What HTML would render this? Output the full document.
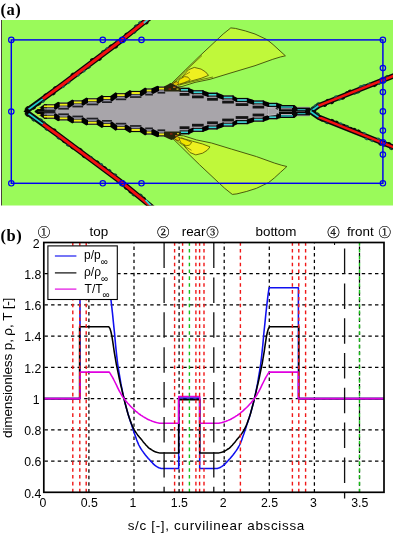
<!DOCTYPE html>
<html><head><meta charset="utf-8"><style>html,body{margin:0;padding:0;background:#fff;width:394px;height:533px;overflow:hidden}svg{display:block;filter:blur(0.3px)}</style></head>
<body><svg width="394" height="533" viewBox="0 0 394 533">
<rect x="2" y="20" width="391" height="185.5" fill="#9afa5a"/>
<rect x="1" y="20" width="1" height="185.5" fill="#4a4438"/>
<polygon points="170,85 198,57.6 217.1,39.7 223.2,34 230.8,27.9 235.4,28.4 245.3,30.9 255,34 267.1,39.7 273,44.5 279,50 285.4,55.8 280.3,57 272.8,59.3 255,65.7 230,73.2 210,79.3 195,82.4 182,86.5 176,87" fill="#c0f83a" stroke="#3e4a08" stroke-width="0.9"/>
<polyline points="178,85.4 195,81 213,77" fill="none" stroke="#4a4a00" stroke-width="0.7"/>
<polyline points="172,84.5 186,70.5 202,55.5" fill="none" stroke="#4a4a00" stroke-width="0.7"/>
<polygon points="180,84.5 183.4,75.4 188.6,69.7 194.3,67.4 201.1,69.1 205.7,72 208.5,75.4 201.1,78.3 190.8,81.1 182.8,83.4" fill="#eef020" stroke="#4a4a00" stroke-width="0.8"/>
<polygon points="177,85 179.4,79.4 184.6,76.6 188,77.1 190.3,80 185,82.3" fill="#f2e400" stroke="#4a4a00" stroke-width="0.7"/>
<polygon points="171,85.5 174,82.5 177,81.5 178.5,83.5 176,86" fill="#d8c000" stroke="#703000" stroke-width="0.7"/>
<polyline points="170,86 180,78 190,72" fill="none" stroke="#4a4a00" stroke-width="0.6"/>
<polygon points="171.5,137.3 199.5,164.7 218.6,182.6 224.7,188.3 232.3,194.4 236.9,193.9 246.8,191.4 256.5,188.3 268.6,182.6 274.5,177.8 280.5,172.3 286.9,166.5 281.8,165.3 274.3,163 256.5,156.6 231.5,149.1 211.5,143 196.5,139.9 183.5,135.8 177.5,135.3" fill="#c0f83a" stroke="#3e4a08" stroke-width="0.9"/>
<polygon points="181.5,137.8 184.9,146.9 190.1,152.6 195.8,154.9 202.6,153.2 207.2,150.3 210,146.9 202.6,144 192.3,141.2 184.3,138.9" fill="#eef020" stroke="#4a4a00" stroke-width="0.8"/>
<polygon points="178.5,137.3 180.9,142.9 186.1,145.7 189.5,145.2 191.8,142.3 186.5,140" fill="#f2e400" stroke="#4a4a00" stroke-width="0.7"/>
<polygon points="172.5,136.8 175.5,139.8 178.5,140.8 180,138.8 177.5,136.3" fill="#d8c000" stroke="#703000" stroke-width="0.7"/>
<polyline points="171.5,136.3 181.5,144.3 191.5,150.3" fill="none" stroke="#4a4a00" stroke-width="0.6"/>
<polygon points="34.7,111.5 44.4,104.3 55.1,104.3 58.7,102.6 68.4,102.6 72.9,100.4 82.6,100.4 87,98.3 97.7,98.3 102.5,96 111.4,96 116.2,93.2 125.7,93.2 130.5,90.9 140.9,90.9 145.7,88.5 152.4,88.5 158,86.6 164.7,86.6 167.5,85.5 170.5,83.2 176,85.5 180.1,87.7 189,87.7 192.5,90.2 203.2,90.2 207.6,92.6 217.4,92.6 222.7,95.4 233.4,95.4 236.2,97.9 247.8,97.9 253.1,100.4 263.7,100.4 268.2,102.8 277.1,102.8 281.5,105 291.3,105 295,106.8 309.5,106.8 309.5,116.2 295,116.2 291.3,117.1 281.5,117.1 277.1,119.3 268.2,119.3 263.7,121.7 253.1,121.7 247.8,124.2 236.2,124.2 233.4,126.7 222.7,126.7 217.4,129.5 207.6,129.5 203.2,131.9 192.5,131.9 189,134.4 180.1,134.4 176,137.5 171.5,139.8 167.5,137.5 164.7,136.4 158,136.4 152.4,134.5 145.7,134.5 140.9,132.1 130.5,132.1 125.7,129.8 116.2,129.8 111.4,127 102.5,127 97.7,124.7 87,124.7 82.6,122.6 72.9,122.6 68.4,120.4 58.7,120.4 55.1,118.7 44.4,118.7" fill="#a8a5aa"/>
<polygon points="34.7,110.9 44.4,104.3 47,104.3 47,118.7 44.4,118.7 34.7,112.1" fill="#050505"/>
<rect x="45" y="109.4" width="11" height="1.3" fill="#c8c8c8"/><rect x="45" y="112.4" width="11" height="1.3" fill="#c8c8c8"/><rect x="38" y="110.9" width="17" height="1.1" fill="#222"/>
<rect x="37" y="107.6" width="3.5" height="1.4" fill="#d8d820"/><rect x="37" y="114.0" width="3.5" height="1.4" fill="#d8d820"/>
<rect x="43.9" y="104.3" width="11.7" height="1.2" fill="#080808"/>
<rect x="43.9" y="105.5" width="11.7" height="1.9" fill="#eeee10"/>
<rect x="43.9" y="107.4" width="11.7" height="0.8" fill="#101010"/>
<rect x="43.9" y="108.2" width="11.7" height="1.4" fill="#9090a4"/>
<rect x="43.9" y="109.6" width="11.7" height="1.7" fill="#202024"/>
<rect x="58.2" y="102.6" width="10.7" height="1.2" fill="#080808"/>
<rect x="58.2" y="103.8" width="10.7" height="1.9" fill="#eeee10"/>
<rect x="58.2" y="105.7" width="10.7" height="0.8" fill="#101010"/>
<rect x="58.2" y="106.5" width="10.7" height="1.4" fill="#9090a4"/>
<rect x="58.2" y="107.9" width="10.7" height="1.7" fill="#202024"/>
<rect x="72.4" y="100.4" width="10.7" height="1.2" fill="#080808"/>
<rect x="72.4" y="101.6" width="10.7" height="1.9" fill="#eeee10"/>
<rect x="72.4" y="103.5" width="10.7" height="0.8" fill="#101010"/>
<rect x="72.4" y="104.3" width="10.7" height="1.4" fill="#9090a4"/>
<rect x="72.4" y="105.7" width="10.7" height="1.7" fill="#202024"/>
<rect x="86.5" y="98.3" width="11.7" height="1.2" fill="#080808"/>
<rect x="86.5" y="99.5" width="11.7" height="1.9" fill="#eeee10"/>
<rect x="86.5" y="101.4" width="11.7" height="0.8" fill="#101010"/>
<rect x="86.5" y="102.2" width="11.7" height="1.4" fill="#9090a4"/>
<rect x="86.5" y="103.6" width="11.7" height="1.7" fill="#202024"/>
<rect x="102" y="96" width="9.9" height="1.2" fill="#080808"/>
<rect x="102" y="97.2" width="9.9" height="1.9" fill="#eeee10"/>
<rect x="102" y="99.1" width="9.9" height="0.8" fill="#101010"/>
<rect x="102" y="99.9" width="9.9" height="1.4" fill="#9090a4"/>
<rect x="102" y="101.3" width="9.9" height="1.7" fill="#202024"/>
<rect x="115.7" y="93.2" width="10.5" height="1.2" fill="#080808"/>
<rect x="115.7" y="94.4" width="10.5" height="1.9" fill="#eeee10"/>
<rect x="115.7" y="96.3" width="10.5" height="0.8" fill="#101010"/>
<rect x="115.7" y="97.1" width="10.5" height="1.4" fill="#9090a4"/>
<rect x="115.7" y="98.5" width="10.5" height="1.7" fill="#202024"/>
<rect x="130" y="90.9" width="11.4" height="1.2" fill="#080808"/>
<rect x="130" y="92.1" width="11.4" height="1.9" fill="#eeee10"/>
<rect x="130" y="94" width="11.4" height="0.8" fill="#101010"/>
<rect x="130" y="94.8" width="11.4" height="1.4" fill="#9090a4"/>
<rect x="130" y="96.2" width="11.4" height="1.7" fill="#202024"/>
<rect x="145.2" y="88.5" width="7.7" height="1.2" fill="#080808"/>
<rect x="145.2" y="89.7" width="7.7" height="1.9" fill="#eeee10"/>
<rect x="145.2" y="91.6" width="7.7" height="0.8" fill="#101010"/>
<rect x="145.2" y="92.4" width="7.7" height="1.4" fill="#9090a4"/>
<rect x="145.2" y="93.8" width="7.7" height="1.7" fill="#202024"/>
<rect x="157.5" y="86.6" width="7.7" height="1.2" fill="#080808"/>
<rect x="157.5" y="87.8" width="7.7" height="1.9" fill="#eeee10"/>
<rect x="157.5" y="89.7" width="7.7" height="0.8" fill="#101010"/>
<rect x="157.5" y="90.5" width="7.7" height="1.4" fill="#9090a4"/>
<rect x="157.5" y="91.9" width="7.7" height="1.7" fill="#202024"/>
<rect x="43.9" y="117.5" width="11.7" height="1.2" fill="#080808"/>
<rect x="43.9" y="115.6" width="11.7" height="1.9" fill="#eeee10"/>
<rect x="43.9" y="114.8" width="11.7" height="0.8" fill="#101010"/>
<rect x="43.9" y="113.4" width="11.7" height="1.4" fill="#9090a4"/>
<rect x="43.9" y="111.7" width="11.7" height="1.7" fill="#202024"/>
<rect x="58.2" y="119.2" width="10.7" height="1.2" fill="#080808"/>
<rect x="58.2" y="117.3" width="10.7" height="1.9" fill="#eeee10"/>
<rect x="58.2" y="116.5" width="10.7" height="0.8" fill="#101010"/>
<rect x="58.2" y="115.1" width="10.7" height="1.4" fill="#9090a4"/>
<rect x="58.2" y="113.4" width="10.7" height="1.7" fill="#202024"/>
<rect x="72.4" y="121.4" width="10.7" height="1.2" fill="#080808"/>
<rect x="72.4" y="119.5" width="10.7" height="1.9" fill="#eeee10"/>
<rect x="72.4" y="118.7" width="10.7" height="0.8" fill="#101010"/>
<rect x="72.4" y="117.3" width="10.7" height="1.4" fill="#9090a4"/>
<rect x="72.4" y="115.6" width="10.7" height="1.7" fill="#202024"/>
<rect x="86.5" y="123.5" width="11.7" height="1.2" fill="#080808"/>
<rect x="86.5" y="121.6" width="11.7" height="1.9" fill="#eeee10"/>
<rect x="86.5" y="120.8" width="11.7" height="0.8" fill="#101010"/>
<rect x="86.5" y="119.4" width="11.7" height="1.4" fill="#9090a4"/>
<rect x="86.5" y="117.7" width="11.7" height="1.7" fill="#202024"/>
<rect x="102" y="125.8" width="9.9" height="1.2" fill="#080808"/>
<rect x="102" y="123.9" width="9.9" height="1.9" fill="#eeee10"/>
<rect x="102" y="123.1" width="9.9" height="0.8" fill="#101010"/>
<rect x="102" y="121.7" width="9.9" height="1.4" fill="#9090a4"/>
<rect x="102" y="120" width="9.9" height="1.7" fill="#202024"/>
<rect x="115.7" y="128.6" width="10.5" height="1.2" fill="#080808"/>
<rect x="115.7" y="126.7" width="10.5" height="1.9" fill="#eeee10"/>
<rect x="115.7" y="125.9" width="10.5" height="0.8" fill="#101010"/>
<rect x="115.7" y="124.5" width="10.5" height="1.4" fill="#9090a4"/>
<rect x="115.7" y="122.8" width="10.5" height="1.7" fill="#202024"/>
<rect x="130" y="130.9" width="11.4" height="1.2" fill="#080808"/>
<rect x="130" y="129" width="11.4" height="1.9" fill="#eeee10"/>
<rect x="130" y="128.2" width="11.4" height="0.8" fill="#101010"/>
<rect x="130" y="126.8" width="11.4" height="1.4" fill="#9090a4"/>
<rect x="130" y="125.1" width="11.4" height="1.7" fill="#202024"/>
<rect x="145.2" y="133.3" width="7.7" height="1.2" fill="#080808"/>
<rect x="145.2" y="131.4" width="7.7" height="1.9" fill="#eeee10"/>
<rect x="145.2" y="130.6" width="7.7" height="0.8" fill="#101010"/>
<rect x="145.2" y="129.2" width="7.7" height="1.4" fill="#9090a4"/>
<rect x="145.2" y="127.5" width="7.7" height="1.7" fill="#202024"/>
<rect x="157.5" y="135.2" width="7.7" height="1.2" fill="#080808"/>
<rect x="157.5" y="133.3" width="7.7" height="1.9" fill="#eeee10"/>
<rect x="157.5" y="132.5" width="7.7" height="0.8" fill="#101010"/>
<rect x="157.5" y="131.1" width="7.7" height="1.4" fill="#9090a4"/>
<rect x="157.5" y="129.4" width="7.7" height="1.7" fill="#202024"/>
<rect x="179.6" y="87.7" width="9.9" height="1.4" fill="#080808"/>
<rect x="179.6" y="89.1" width="9.9" height="1.6" fill="#30d8d8"/>
<rect x="179.6" y="90.7" width="9.9" height="1.2" fill="#101010"/>
<rect x="179.6" y="91.9" width="9.9" height="1.1" fill="#aca4b0"/>
<rect x="179.6" y="93" width="9.9" height="2.8" fill="#141414"/>
<rect x="192" y="90.2" width="11.7" height="1.4" fill="#080808"/>
<rect x="192" y="91.6" width="11.7" height="1.6" fill="#30d8d8"/>
<rect x="192" y="93.2" width="11.7" height="1.2" fill="#101010"/>
<rect x="192" y="94.4" width="11.7" height="1.1" fill="#aca4b0"/>
<rect x="192" y="95.5" width="11.7" height="2.8" fill="#141414"/>
<rect x="207.1" y="92.6" width="10.8" height="1.4" fill="#080808"/>
<rect x="207.1" y="94" width="10.8" height="1.6" fill="#30d8d8"/>
<rect x="207.1" y="95.6" width="10.8" height="1.2" fill="#101010"/>
<rect x="207.1" y="96.8" width="10.8" height="1.1" fill="#aca4b0"/>
<rect x="207.1" y="97.9" width="10.8" height="2.8" fill="#141414"/>
<rect x="222.2" y="95.4" width="11.7" height="1.4" fill="#080808"/>
<rect x="222.2" y="96.8" width="11.7" height="1.6" fill="#30d8d8"/>
<rect x="222.2" y="98.4" width="11.7" height="1.2" fill="#101010"/>
<rect x="222.2" y="99.6" width="11.7" height="1.1" fill="#aca4b0"/>
<rect x="222.2" y="100.7" width="11.7" height="2.8" fill="#141414"/>
<rect x="235.7" y="97.9" width="12.6" height="1.4" fill="#080808"/>
<rect x="235.7" y="99.3" width="12.6" height="1.6" fill="#30d8d8"/>
<rect x="235.7" y="100.9" width="12.6" height="1.2" fill="#101010"/>
<rect x="235.7" y="102.1" width="12.6" height="1.1" fill="#aca4b0"/>
<rect x="235.7" y="103.2" width="12.6" height="2.8" fill="#141414"/>
<rect x="252.6" y="100.4" width="11.6" height="1.4" fill="#080808"/>
<rect x="252.6" y="101.8" width="11.6" height="1.6" fill="#30d8d8"/>
<rect x="252.6" y="103.4" width="11.6" height="1.2" fill="#101010"/>
<rect x="252.6" y="104.6" width="11.6" height="1.1" fill="#aca4b0"/>
<rect x="252.6" y="105.7" width="11.6" height="2.8" fill="#141414"/>
<rect x="267.7" y="102.8" width="9.9" height="1.4" fill="#080808"/>
<rect x="267.7" y="104.2" width="9.9" height="1.6" fill="#30d8d8"/>
<rect x="267.7" y="105.8" width="9.9" height="1.2" fill="#101010"/>
<rect x="267.7" y="107" width="9.9" height="1.1" fill="#aca4b0"/>
<rect x="267.7" y="108.1" width="9.9" height="2.8" fill="#141414"/>
<rect x="281" y="105" width="10.8" height="1.4" fill="#080808"/>
<rect x="281" y="106.4" width="10.8" height="1.6" fill="#30d8d8"/>
<rect x="281" y="108" width="10.8" height="1.2" fill="#101010"/>
<rect x="281" y="109.2" width="10.8" height="1.1" fill="#aca4b0"/>
<rect x="281" y="110.3" width="10.8" height="2.8" fill="#141414"/>
<rect x="179.6" y="133" width="9.9" height="1.4" fill="#080808"/>
<rect x="179.6" y="131.4" width="9.9" height="1.6" fill="#30d8d8"/>
<rect x="179.6" y="130.2" width="9.9" height="1.2" fill="#101010"/>
<rect x="179.6" y="129.1" width="9.9" height="1.1" fill="#aca4b0"/>
<rect x="179.6" y="126.3" width="9.9" height="2.8" fill="#141414"/>
<rect x="192" y="130.5" width="11.7" height="1.4" fill="#080808"/>
<rect x="192" y="128.9" width="11.7" height="1.6" fill="#30d8d8"/>
<rect x="192" y="127.7" width="11.7" height="1.2" fill="#101010"/>
<rect x="192" y="126.6" width="11.7" height="1.1" fill="#aca4b0"/>
<rect x="192" y="123.8" width="11.7" height="2.8" fill="#141414"/>
<rect x="207.1" y="128.1" width="10.8" height="1.4" fill="#080808"/>
<rect x="207.1" y="126.5" width="10.8" height="1.6" fill="#30d8d8"/>
<rect x="207.1" y="125.3" width="10.8" height="1.2" fill="#101010"/>
<rect x="207.1" y="124.2" width="10.8" height="1.1" fill="#aca4b0"/>
<rect x="207.1" y="121.4" width="10.8" height="2.8" fill="#141414"/>
<rect x="222.2" y="125.3" width="11.7" height="1.4" fill="#080808"/>
<rect x="222.2" y="123.7" width="11.7" height="1.6" fill="#30d8d8"/>
<rect x="222.2" y="122.5" width="11.7" height="1.2" fill="#101010"/>
<rect x="222.2" y="121.4" width="11.7" height="1.1" fill="#aca4b0"/>
<rect x="222.2" y="118.6" width="11.7" height="2.8" fill="#141414"/>
<rect x="235.7" y="122.8" width="12.6" height="1.4" fill="#080808"/>
<rect x="235.7" y="121.2" width="12.6" height="1.6" fill="#30d8d8"/>
<rect x="235.7" y="120" width="12.6" height="1.2" fill="#101010"/>
<rect x="235.7" y="118.9" width="12.6" height="1.1" fill="#aca4b0"/>
<rect x="235.7" y="116.1" width="12.6" height="2.8" fill="#141414"/>
<rect x="252.6" y="120.3" width="11.6" height="1.4" fill="#080808"/>
<rect x="252.6" y="118.7" width="11.6" height="1.6" fill="#30d8d8"/>
<rect x="252.6" y="117.5" width="11.6" height="1.2" fill="#101010"/>
<rect x="252.6" y="116.4" width="11.6" height="1.1" fill="#aca4b0"/>
<rect x="252.6" y="113.6" width="11.6" height="2.8" fill="#141414"/>
<rect x="267.7" y="117.9" width="9.9" height="1.4" fill="#080808"/>
<rect x="267.7" y="116.3" width="9.9" height="1.6" fill="#30d8d8"/>
<rect x="267.7" y="115.1" width="9.9" height="1.2" fill="#101010"/>
<rect x="267.7" y="114" width="9.9" height="1.1" fill="#aca4b0"/>
<rect x="267.7" y="111.2" width="9.9" height="2.8" fill="#141414"/>
<rect x="281" y="115.7" width="10.8" height="1.4" fill="#080808"/>
<rect x="281" y="114.1" width="10.8" height="1.6" fill="#30d8d8"/>
<rect x="281" y="112.9" width="10.8" height="1.2" fill="#101010"/>
<rect x="281" y="111.8" width="10.8" height="1.1" fill="#aca4b0"/>
<rect x="281" y="109" width="10.8" height="2.8" fill="#141414"/>
<polygon points="54.1,104.3 58.1,101.7 59.7,102.6 59.7,107 55.7,109.7 54.1,108.9" fill="#000"/>
<polygon points="67.4,102.6 72.3,99.5 73.9,100.4 73.9,104.8 69,108 67.4,107.2" fill="#000"/>
<polygon points="81.6,100.4 86.4,97.4 88,98.3 88,102.7 83.2,105.8 81.6,105" fill="#000"/>
<polygon points="96.7,98.3 101.9,95.1 103.5,96 103.5,100.4 98.3,103.7 96.7,102.9" fill="#000"/>
<polygon points="110.4,96 115.6,92.3 117.2,93.2 117.2,97.6 112,101.4 110.4,100.6" fill="#000"/>
<polygon points="124.7,93.2 129.9,90 131.5,90.9 131.5,95.3 126.3,98.6 124.7,97.8" fill="#000"/>
<polygon points="139.9,90.9 145.1,87.6 146.7,88.5 146.7,92.9 141.5,96.3 139.9,95.5" fill="#000"/>
<polygon points="151.4,88.5 157.4,85.7 159,86.6 159,91 153,93.9 151.4,93.1" fill="#000"/>
<polygon points="54.1,118.7 58.1,121.3 59.7,120.4 59.7,116 55.7,113.3 54.1,114.1" fill="#000"/>
<polygon points="67.4,120.4 72.3,123.5 73.9,122.6 73.9,118.2 69,115 67.4,115.8" fill="#000"/>
<polygon points="81.6,122.6 86.4,125.6 88,124.7 88,120.3 83.2,117.2 81.6,118" fill="#000"/>
<polygon points="96.7,124.7 101.9,127.9 103.5,127 103.5,122.6 98.3,119.3 96.7,120.1" fill="#000"/>
<polygon points="110.4,127 115.6,130.7 117.2,129.8 117.2,125.4 112,121.6 110.4,122.4" fill="#000"/>
<polygon points="124.7,129.8 129.9,133 131.5,132.1 131.5,127.7 126.3,124.4 124.7,125.2" fill="#000"/>
<polygon points="139.9,132.1 145.1,135.4 146.7,134.5 146.7,130.1 141.5,126.7 139.9,127.5" fill="#000"/>
<polygon points="151.4,134.5 157.4,137.3 159,136.4 159,132 153,129.1 151.4,129.9" fill="#000"/>
<polygon points="188,87.7 191.9,89.3 193.5,90.2 193.5,94.6 189.6,93.1 188,92.3" fill="#000"/>
<polygon points="202.2,90.2 207,91.7 208.6,92.6 208.6,97 203.8,95.6 202.2,94.8" fill="#000"/>
<polygon points="216.4,92.6 222.1,94.5 223.7,95.4 223.7,99.8 218,98 216.4,97.2" fill="#000"/>
<polygon points="232.4,95.4 235.6,97 237.2,97.9 237.2,102.3 234,100.8 232.4,100" fill="#000"/>
<polygon points="246.8,97.9 252.5,99.5 254.1,100.4 254.1,104.8 248.4,103.3 246.8,102.5" fill="#000"/>
<polygon points="262.7,100.4 267.6,101.9 269.2,102.8 269.2,107.2 264.3,105.8 262.7,105" fill="#000"/>
<polygon points="276.1,102.8 280.9,104.1 282.5,105 282.5,109.4 277.7,108.2 276.1,107.4" fill="#000"/>
<polygon points="188,134.4 191.9,132.8 193.5,131.9 193.5,127.5 189.6,129 188,129.8" fill="#000"/>
<polygon points="202.2,131.9 207,130.4 208.6,129.5 208.6,125.1 203.8,126.5 202.2,127.3" fill="#000"/>
<polygon points="216.4,129.5 222.1,127.6 223.7,126.7 223.7,122.3 218,124.1 216.4,124.9" fill="#000"/>
<polygon points="232.4,126.7 235.6,125.1 237.2,124.2 237.2,119.8 234,121.3 232.4,122.1" fill="#000"/>
<polygon points="246.8,124.2 252.5,122.6 254.1,121.7 254.1,117.3 248.4,118.8 246.8,119.6" fill="#000"/>
<polygon points="262.7,121.7 267.6,120.2 269.2,119.3 269.2,114.9 264.3,116.3 262.7,117.1" fill="#000"/>
<polygon points="276.1,119.3 280.9,118 282.5,117.1 282.5,112.7 277.7,113.9 276.1,114.7" fill="#000"/>
<polygon points="164,86.6 168,84.4 170.5,83 173,84 177,86.2 181,88 181,91.5 164,91.5" fill="#26260a"/>
<polygon points="164,136.4 168,138.6 171.5,140 174,139 177,136.8 181,135 181,131.5 164,131.5" fill="#26260a"/>
<rect x="173" y="86.6" width="2.5" height="1.4" fill="#b06010"/><rect x="168.5" y="88.4" width="2.5" height="1.4" fill="#902010"/><rect x="176.5" y="88.5" width="2" height="1.3" fill="#c8c020"/><rect x="175" y="135" width="2.5" height="1.4" fill="#b06010"/><rect x="170" y="133.2" width="2.5" height="1.4" fill="#902010"/><rect x="177" y="133" width="2" height="1.3" fill="#c8c020"/>
<rect x="291" y="107.6" width="19" height="7.8" fill="#060606"/>
<polygon points="279,105 294.5,105 297,107.3 297,115.8 294.5,117.9 279,117.9" fill="#060606"/>
<rect x="281" y="106.4" width="12" height="1.3" fill="#30d8d8"/><rect x="281" y="115.3" width="12" height="1.3" fill="#30d8d8"/>
<rect x="281" y="108.3" width="11" height="1.0" fill="#b8b0b8"/><rect x="281" y="114.0" width="11" height="1.0" fill="#b8b0b8"/><rect x="278" y="111.0" width="14" height="1.0" fill="#555"/>
<polygon points="268,107.5 275,108.5 278.5,111.5 275,114.5 268,115.5" fill="#a6a4aa" stroke="#c8c8cc" stroke-width="0.8"/>
<rect x="296" y="111.0" width="9" height="0.9" fill="#444"/>
<rect x="297.5" y="109.2" width="8" height="1.0" fill="#30d0d0"/><rect x="297.5" y="113.2" width="8" height="1.0" fill="#30d0d0"/>
<clipPath id="cg"><rect x="1.5" y="20" width="391.5" height="185.5"/></clipPath>
<g clip-path="url(#cg)">
<polyline points="26,111.3 61.9,85 121.8,40 150,17.5" fill="none" stroke="#0a0a0a" stroke-width="5.4" stroke-linejoin="round"/>
<ellipse cx="27" cy="107.5" rx="1.9" ry="1.0" transform="rotate(-36.2 27 107.5)" fill="#0a0a0a"/>
<ellipse cx="34.3" cy="108.3" rx="1.9" ry="1.0" transform="rotate(-36.2 34.3 108.3)" fill="#0a0a0a"/>
<ellipse cx="39.4" cy="104.3" rx="1.9" ry="1.0" transform="rotate(-36.2 39.4 104.3)" fill="#0a0a0a"/>
<ellipse cx="43.3" cy="101.6" rx="1.9" ry="1.0" transform="rotate(-36.2 43.3 101.6)" fill="#1a5a50"/>
<ellipse cx="45.1" cy="94.6" rx="1.9" ry="1.0" transform="rotate(-36.2 45.1 94.6)" fill="#0a0a0a"/>
<ellipse cx="53.9" cy="94" rx="1.9" ry="1.0" transform="rotate(-36.2 53.9 94)" fill="#0a0a0a"/>
<ellipse cx="54.8" cy="87.4" rx="1.9" ry="1.0" transform="rotate(-36.2 54.8 87.4)" fill="#0a0a0a"/>
<ellipse cx="63.5" cy="86.8" rx="1.9" ry="1.0" transform="rotate(-36.9 63.5 86.8)" fill="#1a5a50"/>
<ellipse cx="68.9" cy="82.7" rx="1.9" ry="1.0" transform="rotate(-36.9 68.9 82.7)" fill="#1a5a50"/>
<ellipse cx="72.2" cy="74" rx="1.9" ry="1.0" transform="rotate(-36.9 72.2 74)" fill="#0a0a0a"/>
<ellipse cx="78.4" cy="75.4" rx="1.9" ry="1.0" transform="rotate(-36.9 78.4 75.4)" fill="#1a5a50"/>
<ellipse cx="84.2" cy="71.2" rx="1.9" ry="1.0" transform="rotate(-36.9 84.2 71.2)" fill="#1a5a50"/>
<ellipse cx="89.3" cy="67.5" rx="1.9" ry="1.0" transform="rotate(-36.9 89.3 67.5)" fill="#103830"/>
<ellipse cx="91.6" cy="59.4" rx="1.9" ry="1.0" transform="rotate(-36.9 91.6 59.4)" fill="#0a0a0a"/>
<ellipse cx="100.2" cy="59.5" rx="1.9" ry="1.0" transform="rotate(-36.9 100.2 59.5)" fill="#0a0a0a"/>
<ellipse cx="102.6" cy="51.3" rx="1.9" ry="1.0" transform="rotate(-36.9 102.6 51.3)" fill="#103830"/>
<ellipse cx="106.8" cy="48.3" rx="1.9" ry="1.0" transform="rotate(-36.9 106.8 48.3)" fill="#1a5a50"/>
<ellipse cx="110.3" cy="45.7" rx="1.9" ry="1.0" transform="rotate(-36.9 110.3 45.7)" fill="#0a0a0a"/>
<ellipse cx="116.5" cy="47.2" rx="1.9" ry="1.0" transform="rotate(-36.9 116.5 47.2)" fill="#0a0a0a"/>
<ellipse cx="116.9" cy="40.8" rx="1.9" ry="1.0" transform="rotate(-36.9 116.9 40.8)" fill="#103830"/>
<ellipse cx="124.7" cy="40.7" rx="1.9" ry="1.0" transform="rotate(-38.6 124.7 40.7)" fill="#0a0a0a"/>
<ellipse cx="126" cy="33.9" rx="1.9" ry="1.0" transform="rotate(-38.6 126 33.9)" fill="#0a0a0a"/>
<ellipse cx="134.8" cy="32.5" rx="1.9" ry="1.0" transform="rotate(-38.6 134.8 32.5)" fill="#103830"/>
<ellipse cx="135.4" cy="25.7" rx="1.9" ry="1.0" transform="rotate(-38.6 135.4 25.7)" fill="#103830"/>
<ellipse cx="139.5" cy="22.5" rx="1.9" ry="1.0" transform="rotate(-38.6 139.5 22.5)" fill="#1a5a50"/>
<ellipse cx="147" cy="23.1" rx="1.9" ry="1.0" transform="rotate(-38.6 147 23.1)" fill="#0a0a0a"/>
<polyline points="26,111.3 42.9,98.9" fill="none" stroke="#22cccc" stroke-width="1.7"/>
<polyline points="42.9,98.9 61.9,85 121.8,40 150,17.5" fill="none" stroke="#f41010" stroke-width="2.9" stroke-linejoin="round"/>
<polyline points="26,111.7 58,135 122.6,183.1 153,208" fill="none" stroke="#0a0a0a" stroke-width="5.4" stroke-linejoin="round"/>
<ellipse cx="27" cy="115.4" rx="1.9" ry="1.0" transform="rotate(36.1 27 115.4)" fill="#0a0a0a"/>
<ellipse cx="33.1" cy="120.2" rx="1.9" ry="1.0" transform="rotate(36.1 33.1 120.2)" fill="#103830"/>
<ellipse cx="41.2" cy="119.6" rx="1.9" ry="1.0" transform="rotate(36.1 41.2 119.6)" fill="#103830"/>
<ellipse cx="44.2" cy="122.3" rx="1.9" ry="1.0" transform="rotate(36.1 44.2 122.3)" fill="#103830"/>
<ellipse cx="46.3" cy="129.5" rx="1.9" ry="1.0" transform="rotate(36.1 46.3 129.5)" fill="#103830"/>
<ellipse cx="54.8" cy="129.6" rx="1.9" ry="1.0" transform="rotate(36.1 54.8 129.6)" fill="#0a0a0a"/>
<ellipse cx="58.2" cy="138.2" rx="1.9" ry="1.0" transform="rotate(36.7 58.2 138.2)" fill="#103830"/>
<ellipse cx="63.5" cy="141.8" rx="1.9" ry="1.0" transform="rotate(36.7 63.5 141.8)" fill="#0a0a0a"/>
<ellipse cx="67.5" cy="145.3" rx="1.9" ry="1.0" transform="rotate(36.7 67.5 145.3)" fill="#103830"/>
<ellipse cx="71.9" cy="148" rx="1.9" ry="1.0" transform="rotate(36.7 71.9 148)" fill="#0a0a0a"/>
<ellipse cx="80.9" cy="149.2" rx="1.9" ry="1.0" transform="rotate(36.7 80.9 149.2)" fill="#0a0a0a"/>
<ellipse cx="83.5" cy="156.8" rx="1.9" ry="1.0" transform="rotate(36.7 83.5 156.8)" fill="#0a0a0a"/>
<ellipse cx="91.5" cy="157.2" rx="1.9" ry="1.0" transform="rotate(36.7 91.5 157.2)" fill="#103830"/>
<ellipse cx="97.9" cy="161.7" rx="1.9" ry="1.0" transform="rotate(36.7 97.9 161.7)" fill="#0a0a0a"/>
<ellipse cx="101.5" cy="164.1" rx="1.9" ry="1.0" transform="rotate(36.7 101.5 164.1)" fill="#1a5a50"/>
<ellipse cx="105.3" cy="167.5" rx="1.9" ry="1.0" transform="rotate(36.7 105.3 167.5)" fill="#0a0a0a"/>
<ellipse cx="109.8" cy="170.3" rx="1.9" ry="1.0" transform="rotate(36.7 109.8 170.3)" fill="#103830"/>
<ellipse cx="115.6" cy="174.6" rx="1.9" ry="1.0" transform="rotate(36.7 115.6 174.6)" fill="#103830"/>
<ellipse cx="117.8" cy="182.3" rx="1.9" ry="1.0" transform="rotate(36.7 117.8 182.3)" fill="#103830"/>
<ellipse cx="122.3" cy="185.8" rx="1.9" ry="1.0" transform="rotate(39.3 122.3 185.8)" fill="#1a5a50"/>
<ellipse cx="125.6" cy="188.4" rx="1.9" ry="1.0" transform="rotate(39.3 125.6 188.4)" fill="#0a0a0a"/>
<ellipse cx="130" cy="192.3" rx="1.9" ry="1.0" transform="rotate(39.3 130 192.3)" fill="#0a0a0a"/>
<ellipse cx="133.1" cy="195.1" rx="1.9" ry="1.0" transform="rotate(39.3 133.1 195.1)" fill="#103830"/>
<ellipse cx="141.2" cy="194.9" rx="1.9" ry="1.0" transform="rotate(39.3 141.2 194.9)" fill="#103830"/>
<ellipse cx="144.3" cy="198.1" rx="1.9" ry="1.0" transform="rotate(39.3 144.3 198.1)" fill="#0a0a0a"/>
<ellipse cx="147.3" cy="206.5" rx="1.9" ry="1.0" transform="rotate(39.3 147.3 206.5)" fill="#0a0a0a"/>
<polyline points="26,111.7 43,124.1" fill="none" stroke="#22cccc" stroke-width="1.7"/>
<polyline points="43,124.1 58,135 122.6,183.1 153,208" fill="none" stroke="#f41010" stroke-width="2.9" stroke-linejoin="round"/>
<polyline points="310.8,111.3 318.8,105.6 394,75.8" fill="none" stroke="#0a0a0a" stroke-width="5.3" stroke-linejoin="round"/>
<ellipse cx="312" cy="107.8" rx="1.9" ry="1.0" transform="rotate(-35.5 312 107.8)" fill="#103830"/>
<ellipse cx="314.9" cy="105.5" rx="1.9" ry="1.0" transform="rotate(-35.5 314.9 105.5)" fill="#1a5a50"/>
<ellipse cx="318" cy="103.5" rx="1.9" ry="1.0" transform="rotate(-21.6 318 103.5)" fill="#103830"/>
<ellipse cx="325.3" cy="105.7" rx="1.9" ry="1.0" transform="rotate(-21.6 325.3 105.7)" fill="#0a0a0a"/>
<ellipse cx="327.4" cy="100" rx="1.9" ry="1.0" transform="rotate(-21.6 327.4 100)" fill="#0a0a0a"/>
<ellipse cx="332.3" cy="103" rx="1.9" ry="1.0" transform="rotate(-21.6 332.3 103)" fill="#0a0a0a"/>
<ellipse cx="335.6" cy="96.5" rx="1.9" ry="1.0" transform="rotate(-21.6 335.6 96.5)" fill="#1a5a50"/>
<ellipse cx="340.2" cy="99.4" rx="1.9" ry="1.0" transform="rotate(-21.6 340.2 99.4)" fill="#1a5a50"/>
<ellipse cx="343.2" cy="98.6" rx="1.9" ry="1.0" transform="rotate(-21.6 343.2 98.6)" fill="#0a0a0a"/>
<ellipse cx="346.8" cy="92.3" rx="1.9" ry="1.0" transform="rotate(-21.6 346.8 92.3)" fill="#0a0a0a"/>
<ellipse cx="349.6" cy="90.7" rx="1.9" ry="1.0" transform="rotate(-21.6 349.6 90.7)" fill="#0a0a0a"/>
<ellipse cx="355.5" cy="93.4" rx="1.9" ry="1.0" transform="rotate(-21.6 355.5 93.4)" fill="#103830"/>
<ellipse cx="358.6" cy="92.4" rx="1.9" ry="1.0" transform="rotate(-21.6 358.6 92.4)" fill="#103830"/>
<ellipse cx="360.5" cy="86.3" rx="1.9" ry="1.0" transform="rotate(-21.6 360.5 86.3)" fill="#1a5a50"/>
<ellipse cx="363.7" cy="85.2" rx="1.9" ry="1.0" transform="rotate(-21.6 363.7 85.2)" fill="#1a5a50"/>
<ellipse cx="368.9" cy="83.6" rx="1.9" ry="1.0" transform="rotate(-21.6 368.9 83.6)" fill="#1a5a50"/>
<ellipse cx="375" cy="85.9" rx="1.9" ry="1.0" transform="rotate(-21.6 375 85.9)" fill="#0a0a0a"/>
<ellipse cx="379.4" cy="83.8" rx="1.9" ry="1.0" transform="rotate(-21.6 379.4 83.8)" fill="#1a5a50"/>
<ellipse cx="384.4" cy="82" rx="1.9" ry="1.0" transform="rotate(-21.6 384.4 82)" fill="#1a5a50"/>
<ellipse cx="386.8" cy="76.3" rx="1.9" ry="1.0" transform="rotate(-21.6 386.8 76.3)" fill="#103830"/>
<polyline points="310.8,111.3 318.5,105.8" fill="none" stroke="#22cccc" stroke-width="1.7"/>
<polyline points="318.5,105.8 318.8,105.6 394,75.8" fill="none" stroke="#f41010" stroke-width="2.5" stroke-linejoin="round"/>
<polyline points="310.8,111.7 318.8,117.2 394,147.4" fill="none" stroke="#0a0a0a" stroke-width="5.3" stroke-linejoin="round"/>
<ellipse cx="314.7" cy="111.4" rx="1.9" ry="1.0" transform="rotate(34.5 314.7 111.4)" fill="#0a0a0a"/>
<ellipse cx="318.2" cy="113.7" rx="1.9" ry="1.0" transform="rotate(34.5 318.2 113.7)" fill="#103830"/>
<ellipse cx="321.3" cy="120.4" rx="1.9" ry="1.0" transform="rotate(21.9 321.3 120.4)" fill="#0a0a0a"/>
<ellipse cx="326.5" cy="122.9" rx="1.9" ry="1.0" transform="rotate(21.9 326.5 122.9)" fill="#103830"/>
<ellipse cx="332.7" cy="120.1" rx="1.9" ry="1.0" transform="rotate(21.9 332.7 120.1)" fill="#0a0a0a"/>
<ellipse cx="336.8" cy="121.8" rx="1.9" ry="1.0" transform="rotate(21.9 336.8 121.8)" fill="#0a0a0a"/>
<ellipse cx="341" cy="123.5" rx="1.9" ry="1.0" transform="rotate(21.9 341 123.5)" fill="#1a5a50"/>
<ellipse cx="344.2" cy="125" rx="1.9" ry="1.0" transform="rotate(21.9 344.2 125)" fill="#0a0a0a"/>
<ellipse cx="347.2" cy="126" rx="1.9" ry="1.0" transform="rotate(21.9 347.2 126)" fill="#103830"/>
<ellipse cx="351.4" cy="128.1" rx="1.9" ry="1.0" transform="rotate(21.9 351.4 128.1)" fill="#0a0a0a"/>
<ellipse cx="354.7" cy="128.9" rx="1.9" ry="1.0" transform="rotate(21.9 354.7 128.9)" fill="#0a0a0a"/>
<ellipse cx="359" cy="130.6" rx="1.9" ry="1.0" transform="rotate(21.9 359 130.6)" fill="#0a0a0a"/>
<ellipse cx="364.5" cy="133.1" rx="1.9" ry="1.0" transform="rotate(21.9 364.5 133.1)" fill="#1a5a50"/>
<ellipse cx="366.2" cy="139" rx="1.9" ry="1.0" transform="rotate(21.9 366.2 139)" fill="#1a5a50"/>
<ellipse cx="371.7" cy="140.9" rx="1.9" ry="1.0" transform="rotate(21.9 371.7 140.9)" fill="#1a5a50"/>
<ellipse cx="378.6" cy="138.8" rx="1.9" ry="1.0" transform="rotate(21.9 378.6 138.8)" fill="#1a5a50"/>
<ellipse cx="380" cy="144.5" rx="1.9" ry="1.0" transform="rotate(21.9 380 144.5)" fill="#0a0a0a"/>
<ellipse cx="383.3" cy="145.7" rx="1.9" ry="1.0" transform="rotate(21.9 383.3 145.7)" fill="#1a5a50"/>
<ellipse cx="389.4" cy="143.3" rx="1.9" ry="1.0" transform="rotate(21.9 389.4 143.3)" fill="#0a0a0a"/>
<ellipse cx="390.8" cy="148.9" rx="1.9" ry="1.0" transform="rotate(21.9 390.8 148.9)" fill="#103830"/>
<polyline points="310.8,111.7 318.6,117.1" fill="none" stroke="#22cccc" stroke-width="1.7"/>
<polyline points="318.6,117.1 318.8,117.2 394,147.4" fill="none" stroke="#f41010" stroke-width="2.5" stroke-linejoin="round"/>
<line x1="143.8" y1="23.2" x2="150" y2="17.5" stroke="#30d0d0" stroke-width="1.8"/>
<line x1="145.5" y1="199.8" x2="153" y2="208" stroke="#30d0d0" stroke-width="1.8"/>
</g>
<polygon points="23.5,111.3 27,108.5 30,110 30,113 27,114.2" fill="#000"/>
<rect x="11.3" y="39.9" width="371.6" height="143.4" fill="none" stroke="#0000f0" stroke-width="1.45"/>
<circle cx="11.3" cy="39.9" r="2.7" fill="none" stroke="#0000f0" stroke-width="1.2"/>
<circle cx="102.8" cy="39.9" r="2.7" fill="none" stroke="#0000f0" stroke-width="1.2"/>
<circle cx="122.3" cy="39.9" r="2.7" fill="none" stroke="#0000f0" stroke-width="1.2"/>
<circle cx="141.5" cy="39.9" r="2.7" fill="none" stroke="#0000f0" stroke-width="1.2"/>
<circle cx="382.9" cy="39.9" r="2.7" fill="none" stroke="#0000f0" stroke-width="1.2"/>
<circle cx="11.3" cy="183.3" r="2.7" fill="none" stroke="#0000f0" stroke-width="1.2"/>
<circle cx="102.8" cy="183.3" r="2.7" fill="none" stroke="#0000f0" stroke-width="1.2"/>
<circle cx="122.3" cy="183.3" r="2.7" fill="none" stroke="#0000f0" stroke-width="1.2"/>
<circle cx="141.5" cy="183.3" r="2.7" fill="none" stroke="#0000f0" stroke-width="1.2"/>
<circle cx="382.9" cy="183.3" r="2.7" fill="none" stroke="#0000f0" stroke-width="1.2"/>
<circle cx="11.3" cy="111.6" r="2.7" fill="none" stroke="#0000f0" stroke-width="1.2"/>
<circle cx="382.9" cy="68" r="2.7" fill="none" stroke="#0000f0" stroke-width="1.2"/>
<circle cx="382.9" cy="80.4" r="2.7" fill="none" stroke="#0000f0" stroke-width="1.2"/>
<circle cx="382.9" cy="92.1" r="2.7" fill="none" stroke="#0000f0" stroke-width="1.2"/>
<circle cx="382.9" cy="111.4" r="2.7" fill="none" stroke="#0000f0" stroke-width="1.2"/>
<circle cx="382.9" cy="130.6" r="2.7" fill="none" stroke="#0000f0" stroke-width="1.2"/>
<circle cx="382.9" cy="142.3" r="2.7" fill="none" stroke="#0000f0" stroke-width="1.2"/>
<circle cx="382.9" cy="154.6" r="2.7" fill="none" stroke="#0000f0" stroke-width="1.2"/>
<path d="M88.9 492.3V242.5M134 492.3V242.5M179.1 492.3V242.5M224.2 492.3V242.5M269.3 492.3V242.5M314.4 492.3V242.5M359.5 492.3V242.5" stroke="#000" stroke-width="1.25" stroke-dasharray="3.4 3.15" fill="none"/>
<path d="M44.5 461H384M44.5 429.8H384M44.5 398.6H384M44.5 367.4H384M44.5 336.2H384M44.5 304.9H384M44.5 273.7H384" stroke="#000" stroke-width="1.25" stroke-dasharray="3.4 3.21" fill="none"/>
<polyline points="43.8,398.6 80,398.6 80,287.8 109.3,287.8 110.4,295.1 111.4,303.7 112.5,313.3 113.5,323.4 114.6,333.8 115.6,345.1 116.7,355.7 117.7,364 118.8,371.1 119.9,377.7 120.9,383.7 122,389.2 123,394.2 124.1,398.9 125.1,403.3 126.2,407.3 127.2,411.1 128.3,414.7 129.3,418.2 130.4,421.5 131.5,424.6 132.5,427.8 133.6,430.9 134.6,434 135.7,437 136.7,440 137.8,442.6 138.8,445 139.9,447 141,448.8 142,450.4 143.1,451.9 144.1,453.3 145.2,454.7 146.2,455.9 147.3,457.2 148.3,458.4 149.4,459.6 150.4,460.8 151.5,461.9 152.6,463.1 153.6,464.1 154.7,465.1 155.7,465.9 156.8,466.6 157.8,467.2 158.9,467.7 159.9,468.1 161,468.4 178.7,468.4 178.7,398 189.2,398 199.7,398 199.7,468.4 217.4,468.4 218.5,468.1 219.5,467.7 220.6,467.2 221.6,466.6 222.7,465.9 223.7,465.1 224.8,464.1 225.8,463.1 226.9,461.9 228,460.8 229,459.6 230.1,458.4 231.1,457.2 232.2,455.9 233.2,454.7 234.3,453.3 235.3,451.9 236.4,450.4 237.4,448.8 238.5,447 239.6,445 240.6,442.6 241.7,440 242.7,437 243.8,434 244.8,430.9 245.9,427.8 246.9,424.6 248,421.5 249.1,418.2 250.1,414.7 251.2,411.1 252.2,407.3 253.3,403.3 254.3,398.9 255.4,394.2 256.4,389.2 257.5,383.7 258.5,377.7 259.6,371.1 260.7,364 261.7,355.7 262.8,345.1 263.8,333.8 264.9,323.4 265.9,313.3 267,303.7 268,295.1 269.1,287.8 298.4,287.8 298.4,398.6 384,398.6" fill="none" stroke="#1010f0" stroke-width="1.55" stroke-linejoin="round"/>
<polyline points="43.8,398.6 79.6,398.6 79.6,326.8 108.9,326.8 110,328.6 111,332 112.1,337.3 113.2,344.7 114.2,351.6 115.3,358.2 116.3,364 117.4,369.4 118.5,374.6 119.5,379.5 120.6,384.3 121.7,388.9 122.7,393.3 123.8,397.7 124.8,402.1 125.9,406.3 127,410.3 128,414 129.1,417.3 130.2,420.3 131.2,423.2 132.3,425.8 133.4,428.1 134.4,430.1 135.5,431.8 136.5,433.4 137.6,434.9 138.7,436.3 139.7,437.6 140.8,438.8 141.9,440.1 142.9,441.4 144,442.7 145.1,443.9 146.1,445.2 147.2,446.3 148.2,447.4 149.3,448.3 150.4,449 151.4,449.7 152.5,450.4 153.6,451 154.6,451.5 155.7,451.9 156.7,452.3 157.8,452.6 158.9,452.8 159.9,452.9 161,453 178.7,453 178.7,399.6 189.2,399.6 199.7,399.6 199.7,453 217.4,453 218.5,452.9 219.5,452.8 220.6,452.6 221.7,452.3 222.7,451.9 223.8,451.5 224.8,451 225.9,450.4 227,449.7 228,449 229.1,448.3 230.2,447.4 231.2,446.3 232.3,445.2 233.3,443.9 234.4,442.7 235.5,441.4 236.5,440.1 237.6,438.8 238.7,437.6 239.7,436.3 240.8,434.9 241.9,433.4 242.9,431.8 244,430.1 245,428.1 246.1,425.8 247.2,423.2 248.2,420.3 249.3,417.3 250.4,414 251.4,410.3 252.5,406.3 253.6,402.1 254.6,397.7 255.7,393.3 256.7,388.9 257.8,384.3 258.9,379.5 259.9,374.6 261,369.4 262.1,364 263.1,358.2 264.2,351.6 265.2,344.7 266.3,337.3 267.4,332 268.4,328.6 269.5,326.8 298.8,326.8 298.8,398.6 384,398.6" fill="none" stroke="#000" stroke-width="1.55" stroke-linejoin="round"/>
<polyline points="43.8,398.6 80,398.6 80,372.1 109.3,372.1 110.3,373.7 111.3,375.4 112.4,377.2 113.4,379 114.4,381 115.4,383 116.5,385.2 117.5,387.3 118.5,389.4 119.5,391.4 120.6,393.2 121.6,395 122.6,396.6 123.6,398.1 124.7,399.5 125.7,400.8 126.7,402 127.7,403.2 128.8,404.3 129.8,405.4 130.8,406.5 131.8,407.5 132.9,408.5 133.9,409.4 134.9,410.4 135.9,411.3 137,412.1 138,413 139,413.8 140,414.5 141.1,415.3 142.1,415.9 143.1,416.6 144.1,417.2 145.2,417.8 146.2,418.4 147.2,419 148.2,419.5 149.3,419.9 150.3,420.4 151.3,420.8 152.3,421.2 153.4,421.6 154.4,421.9 155.4,422.2 156.4,422.5 157.5,422.8 158.5,423 159.5,423.2 178.7,423.2 178.7,396.4 189.2,396.4 199.7,396.4 199.7,423.2 218.9,423.2 219.9,423 220.9,422.8 222,422.5 223,422.2 224,421.9 225,421.6 226.1,421.2 227.1,420.8 228.1,420.4 229.1,419.9 230.2,419.5 231.2,419 232.2,418.4 233.2,417.8 234.3,417.2 235.3,416.6 236.3,415.9 237.3,415.3 238.4,414.5 239.4,413.8 240.4,413 241.4,412.1 242.5,411.3 243.5,410.4 244.5,409.4 245.5,408.5 246.6,407.5 247.6,406.5 248.6,405.4 249.6,404.3 250.7,403.2 251.7,402 252.7,400.8 253.7,399.5 254.8,398.1 255.8,396.6 256.8,395 257.8,393.2 258.9,391.4 259.9,389.4 260.9,387.3 261.9,385.2 263,383 264,381 265,379 266,377.2 267.1,375.4 268.1,373.7 269.1,372.1 298.4,372.1 298.4,398.6 384,398.6" fill="none" stroke="#e000e0" stroke-width="1.55" stroke-linejoin="round"/>
<path d="M72.8 492.3V242.5M79.8 492.3V242.5M86.2 492.3V242.5M174.6 492.3V242.5M182.6 492.3V242.5M195.9 492.3V242.5M199.6 492.3V242.5M204 492.3V242.5M240.4 492.3V242.5M292.4 492.3V242.5M298.8 492.3V242.5M305.6 492.3V242.5" stroke="#f01818" stroke-width="1.4" stroke-dasharray="3.6 3.25" fill="none"/>
<path d="M189.4 492.3V242.5M359.5 492.3V242.5" stroke="#18c018" stroke-width="1.4" stroke-dasharray="3.6 3.25" fill="none"/>
<path d="M164.1 242.5V492.3M213.8 242.5V492.3" stroke="#111" stroke-width="1.3" stroke-dasharray="25.5 9.4" fill="none"/>
<path d="M334.6 242.5V245" stroke="#000" stroke-width="1"/>
<path d="M344.6 248.6V498.4" stroke="#111" stroke-width="1.3" stroke-dasharray="25.5 9.3" fill="none"/>
<rect x="43.8" y="242.5" width="340.2" height="249.8" fill="none" stroke="#000" stroke-width="1.7"/>
<rect x="47.9" y="245.9" width="69.4" height="53.6" fill="#fff" stroke="#000" stroke-width="1.1"/>
<line x1="54.9" y1="256" x2="76.4" y2="256" stroke="#1010f0" stroke-width="1.15"/>
<line x1="54.9" y1="272.9" x2="76.4" y2="272.9" stroke="#000" stroke-width="1.15"/>
<line x1="54.9" y1="289.1" x2="76.4" y2="289.1" stroke="#e000e0" stroke-width="1.15"/>
<g style="font-family:'Liberation Sans',Arial,sans-serif;font-size:12px" fill="#000"><text x="84" y="259.4">p/p<tspan font-size="10" dy="5.2">∞</tspan></text><text x="84" y="276.3">ρ/ρ<tspan font-size="10" dy="5.2">∞</tspan></text><text x="84.6" y="292.5">T/T<tspan font-size="10" dy="5.2">∞</tspan></text></g>
<g style="font-family:'Liberation Sans',Arial,sans-serif;font-size:12.3px" fill="#000">
<text x="39.6" y="247.7" text-anchor="end">2</text>
<text x="41.3" y="278.9" text-anchor="end">1.8</text>
<text x="41.3" y="310.1" text-anchor="end">1.6</text>
<text x="41.3" y="341.4" text-anchor="end">1.4</text>
<text x="41.3" y="372.6" text-anchor="end">1.2</text>
<text x="39.6" y="403.8" text-anchor="end">1</text>
<text x="41.3" y="435" text-anchor="end">0.8</text>
<text x="41.3" y="466.2" text-anchor="end">0.6</text>
<text x="41.3" y="497.5" text-anchor="end">0.4</text>
<text x="42.8" y="506.6" text-anchor="middle">0</text>
<text x="89.2" y="506.6" text-anchor="middle">0.5</text>
<text x="133" y="506.6" text-anchor="middle">1</text>
<text x="179.4" y="506.6" text-anchor="middle">1.5</text>
<text x="223.2" y="506.6" text-anchor="middle">2</text>
<text x="269.6" y="506.6" text-anchor="middle">2.5</text>
<text x="313.4" y="506.6" text-anchor="middle">3</text>
<text x="359.8" y="506.6" text-anchor="middle">3.5</text>
</g>
<text x="216.3" y="529.9" text-anchor="middle" style="font-family:'Liberation Sans',Arial,sans-serif;font-size:13.4px;letter-spacing:0.7px">s/c [-], curvilinear abscissa</text>
<text transform="translate(11.9 367.9) rotate(-90)" text-anchor="middle" style="font-family:'Liberation Sans',Arial,sans-serif;font-size:13.7px;letter-spacing:-0.2px">dimensionless p, ρ, T [-]</text>
<g style="font-family:'Liberation Sans',Arial,sans-serif;font-size:13.4px"><text x="89.6" y="236.3">top</text><text x="181.7" y="236.3">rear</text><text x="255.5" y="236.3">bottom</text><text x="346.9" y="236.3">front</text></g>
<text x="44" y="236.6" text-anchor="middle" style="font-family:'Liberation Serif','Noto Serif CJK SC','Noto Sans CJK SC',serif;font-size:12.5px" stroke="#000" stroke-width="0.25">①</text>
<text x="163.2" y="236.6" text-anchor="middle" style="font-family:'Liberation Serif','Noto Serif CJK SC','Noto Sans CJK SC',serif;font-size:12.5px" stroke="#000" stroke-width="0.25">②</text>
<text x="212.5" y="236.6" text-anchor="middle" style="font-family:'Liberation Serif','Noto Serif CJK SC','Noto Sans CJK SC',serif;font-size:12.5px" stroke="#000" stroke-width="0.25">③</text>
<text x="333.6" y="236.6" text-anchor="middle" style="font-family:'Liberation Serif','Noto Serif CJK SC','Noto Sans CJK SC',serif;font-size:12.5px" stroke="#000" stroke-width="0.25">④</text>
<text x="384.7" y="236.6" text-anchor="middle" style="font-family:'Liberation Serif','Noto Serif CJK SC','Noto Sans CJK SC',serif;font-size:12.5px" stroke="#000" stroke-width="0.25">①</text>
<text x="0.4" y="14.8" style="font-family:'Liberation Serif','Times New Roman',serif;font-weight:bold;font-size:16.5px;letter-spacing:0.6px">(a)</text>
<text x="0.4" y="240.8" style="font-family:'Liberation Serif','Times New Roman',serif;font-weight:bold;font-size:16.5px;letter-spacing:0.6px">(b)</text>
</svg></body></html>
